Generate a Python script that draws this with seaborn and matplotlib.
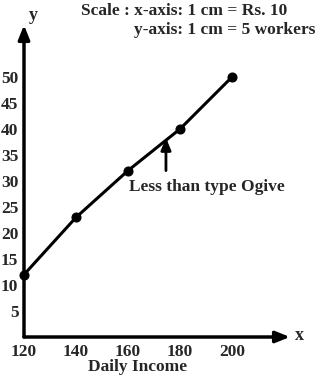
import matplotlib
matplotlib.use("Agg")
import matplotlib.pyplot as plt
import seaborn as sns
import pandas as pd

income = [120, 140, 160, 180, 200]
workers = [12, 23, 32, 40, 50]
x_ticks = [120, 140, 160, 180, 200]
y_ticks = [5, 10, 15, 20, 25, 30, 35, 40, 45, 50]

sns.set_theme(style="white")
plt.rcParams['font.family'] = ['Liberation Serif', 'DejaVu Serif']
plt.rcParams['font.weight'] = 'bold'

df = pd.DataFrame({"income": income, "workers": workers})

fig = plt.figure(figsize=(3.21, 3.82), dpi=100)
ax = fig.add_axes([24/321, 45/382, 266/321, 312/382])
xmin, xmax = 120, 120 + 266/2.6
ymin, ymax = 0, 312/5.2
ax.set_xlim(xmin, xmax)
ax.set_ylim(ymin, ymax)

sns.lineplot(data=df, x="income", y="workers", ax=ax, color="black", linewidth=2.2,
             marker="o", markersize=6.5, markeredgecolor="black", clip_on=False)

for s in ax.spines.values():
    s.set_visible(False)

# axes with arrows
ax.annotate("", xy=(1.0, 0), xytext=(0, 0), xycoords="axes fraction",
            arrowprops=dict(arrowstyle="-|>,head_length=0.7,head_width=0.28", color="black", lw=2.5,
                            shrinkA=0, shrinkB=0), annotation_clip=False)
ax.annotate("", xy=(0, 1.0), xytext=(0, 0), xycoords="axes fraction",
            arrowprops=dict(arrowstyle="-|>,head_length=0.7,head_width=0.28", color="black", lw=2.5,
                            shrinkA=0, shrinkB=0), annotation_clip=False)

ax.set_xticks(x_ticks)
ax.set_yticks(y_ticks)
ax.set_xticklabels([str(v) for v in x_ticks], fontsize=12.5, fontweight="bold")
ax.set_yticklabels([str(v) for v in y_ticks], fontsize=12.5, fontweight="bold")
ax.tick_params(axis="both", direction="inout", length=6, width=2, color="black", pad=1)
ax.tick_params(axis="x", pad=2)
ax.set_xlabel("")
ax.set_ylabel("")
ax.grid(False)

fig.text(138/321, 1 - 367/382, "Daily Income", ha="center", va="center", fontsize=12.5, fontweight="bold")
fig.text(299/321, 1 - 336/382, "x", ha="center", va="center", fontsize=13, fontweight="bold")
fig.text(33/321, 1 - 15/382, "y", ha="center", va="center", fontsize=13, fontweight="bold")
fig.text(184/321, 1 - 11/382, "Scale : x-axis: 1 cm = Rs. 10", ha="center", va="center", fontsize=12.5, fontweight="bold")
fig.text(225/321, 1 - 30/382, "y-axis: 1 cm = 5 workers", ha="center", va="center", fontsize=12.5, fontweight="bold")

ax.text(190.4, 28.8, "Less than type Ogive", ha="center", va="center", fontsize=12.5, fontweight="bold")
ax.annotate("", xy=(174.6, 38.3), xytext=(174.6, 32), xycoords="data",
            arrowprops=dict(arrowstyle="-|>,head_length=0.6,head_width=0.25", color="black", lw=2,
                            shrinkA=0, shrinkB=0))

fig.savefig("out.png", dpi=100, facecolor="white")
